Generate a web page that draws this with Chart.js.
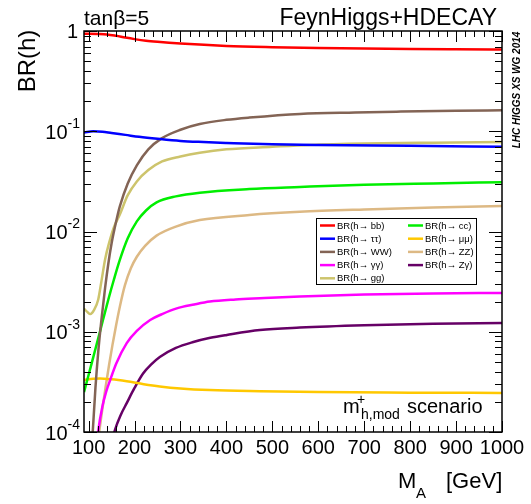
<!DOCTYPE html>
<html>
<head>
<meta charset="utf-8">
<script src="https://cdn.jsdelivr.net/npm/chart.js@4.4.1/dist/chart.umd.min.js"></script>
<style>
  html, body { margin: 0; padding: 0; background: #fff; }
  #wrap { width: 531px; height: 504px; }
</style>
</head>
<body>
<div id="wrap"><canvas id="brChart" width="531" height="504"></canvas></div>
<script>
// light Higgs branching ratios vs M_A (GeV), one mass/BR pair per channel
const mA_bb = [90, 120, 140, 160, 180, 200, 225, 250, 300, 400, 500, 600, 700, 800, 900, 1000];
const br_bb = [0.94, 0.935, 0.925, 0.895, 0.86, 0.83, 0.8, 0.78, 0.75, 0.71, 0.69, 0.677, 0.668, 0.662, 0.658, 0.655];

const mA_tautau = [90, 110, 130, 150, 180, 210, 250, 300, 350, 400, 500, 600, 800, 1000];
const br_tautau = [0.097, 0.1, 0.099, 0.096, 0.092, 0.088, 0.084, 0.08, 0.078, 0.0765, 0.074, 0.0728, 0.0715, 0.07];

const mA_WW = [106, 109, 115, 121, 128, 136, 143, 150, 160, 168, 185, 205, 230, 259, 300, 342, 400, 450, 560, 680, 780, 900, 1000];
const br_WW = [5.4e-5, 1e-4, 2.8e-4, 6.3e-4, 1.32e-3, 2.75e-3, 4.8e-3, 7.6e-3, 0.0126, 0.0178, 0.03, 0.0457, 0.066, 0.085, 0.1035, 0.118, 0.13, 0.137, 0.149, 0.154, 0.157, 0.16, 0.162];

const mA_gamgam = [119, 121, 130, 138, 147, 160, 183, 205, 234, 260, 292, 330, 364, 420, 473, 560, 700, 850, 1000];
const br_gamgam = [8.5e-5, 1.03e-4, 1.8e-4, 2.5e-4, 3.3e-4, 4.8e-4, 7.7e-4, 1.02e-3, 1.31e-3, 1.5e-3, 1.71e-3, 1.87e-3, 2.0e-3, 2.1e-3, 2.16e-3, 2.25e-3, 2.35e-3, 2.41e-3, 2.44e-3];

const mA_gg = [90, 97, 104, 112, 121, 128, 136, 145, 155, 168, 185, 205, 230, 260, 300, 342, 400, 500, 580, 700, 850, 1000];
const br_gg = [1.7e-3, 1.58e-3, 1.5e-3, 1.65e-3, 2.1e-3, 3.2e-3, 5.3e-3, 7.8e-3, 0.011, 0.0148, 0.0229, 0.0316, 0.041, 0.05, 0.056, 0.061, 0.066, 0.07, 0.073, 0.0755, 0.077, 0.078];

const mA_cc = [90, 100, 114, 123, 132, 143, 155, 168, 185, 205, 225, 248, 290, 342, 450, 560, 700, 850, 1000];
const br_cc = [2.5e-4, 3.7e-4, 6.5e-4, 9.3e-4, 1.35e-3, 2.1e-3, 3.3e-3, 5.2e-3, 8.5e-3, 0.0126, 0.0162, 0.0195, 0.0224, 0.0244, 0.0265, 0.0278, 0.0293, 0.0302, 0.031];

const mA_mumu = [90, 110, 125, 150, 183, 220, 255, 300, 364, 473, 600, 800, 1000];
const br_mumu = [3.3e-4, 3.4e-4, 3.42e-4, 3.35e-4, 3.2e-4, 3.0e-4, 2.85e-4, 2.72e-4, 2.62e-4, 2.55e-4, 2.5e-4, 2.47e-4, 2.45e-4];

const mA_ZZ = [120, 123, 129, 137, 145, 152, 160, 168, 179, 192, 205, 223, 248, 290, 342, 450, 560, 700, 850, 1000];
const br_ZZ = [7.9e-5, 1e-4, 1.58e-4, 2.8e-4, 4.8e-4, 7.4e-4, 1.17e-3, 1.78e-3, 2.9e-3, 4.3e-3, 5.6e-3, 7.2e-3, 9.1e-3, 0.0112, 0.013, 0.0146, 0.0157, 0.0166, 0.0174, 0.018];

const mA_Zgam = [153, 157.5, 170, 183, 200, 219, 237, 255, 290, 328, 365, 401, 473, 560, 700, 850, 1000];
const br_Zgam = [8.7e-5, 1.05e-4, 1.48e-4, 1.94e-4, 2.75e-4, 3.85e-4, 4.75e-4, 5.6e-4, 6.9e-4, 7.9e-4, 8.7e-4, 9.3e-4, 1.04e-3, 1.1e-3, 1.16e-3, 1.2e-3, 1.22e-3];

const xTickLabels = ['100', '200', '300', '400', '500', '600', '700', '800', '900', '1000'];
const yTickExponents = [-4, -3, -2, -1, 0];

const FONT = '"Liberation Sans", Arial, Helvetica, sans-serif';

function toPoints(xs, ys) {
  return xs.map((x, i) => ({ x: x, y: ys[i] }));
}

function curve(label, xs, ys, color) {
  return {
    label: label,
    data: toPoints(xs, ys),
    borderColor: color,
    backgroundColor: color,
    borderWidth: 2.5,
    pointRadius: 0,
    fill: false,
    cubicInterpolationMode: 'monotone'
  };
}

const datasets = [
  curve('BR(h\u2192 bb)', mA_bb, br_bb, '#ff0000'),
  curve('BR(h\u2192 \u03c4\u03c4)', mA_tautau, br_tautau, '#0000ff'),
  curve('BR(h\u2192 WW)', mA_WW, br_WW, '#836455'),
  curve('BR(h\u2192 \u03b3\u03b3)', mA_gamgam, br_gamgam, '#ff00ff'),
  curve('BR(h\u2192 gg)', mA_gg, br_gg, '#cdc46c'),
  curve('BR(h\u2192 cc)', mA_cc, br_cc, '#00ee00'),
  curve('BR(h\u2192 \u03bc\u03bc)', mA_mumu, br_mumu, '#ffc800'),
  curve('BR(h\u2192 ZZ)', mA_ZZ, br_ZZ, '#ddb984'),
  curve('BR(h\u2192 Z\u03b3)', mA_Zgam, br_Zgam, '#660066')
];

// two legend columns, listed top to bottom
const legendColumns = [[0, 1, 2, 3, 4], [5, 6, 7, 8]];

function hline(ctx, x1, y1, x2, y2) {
  ctx.beginPath();
  ctx.moveTo(x1, y1);
  ctx.lineTo(x2, y2);
  ctx.stroke();
}

const decorations = {
  id: 'decorations',
  afterDatasetsDraw(chart) {
    const { ctx, chartArea: a, scales: { x, y } } = chart;
    ctx.save();
    ctx.strokeStyle = '#000';
    ctx.fillStyle = '#000';
    ctx.lineWidth = 1;

    // x ticks on bottom and top edges, pointing inward
    for (let v = 100; v <= 1000; v += 20) {
      const px = Math.round(x.getPixelForValue(v)) + 0.5;
      const len = v % 100 === 0 ? 11 : 6;
      hline(ctx, px, a.bottom, px, a.bottom - len);
      hline(ctx, px, a.top, px, a.top + len);
    }
    // y ticks on left and right edges
    for (let e = -4; e <= 0; e++) {
      for (let m = 1; m <= 9; m++) {
        if (e === 0 && m > 1) break;
        const py = Math.round(y.getPixelForValue(m * Math.pow(10, e))) + 0.5;
        const len = m === 1 ? 13 : 7;
        hline(ctx, a.left, py, a.left + len, py);
        hline(ctx, a.right, py, a.right - len, py);
      }
    }

    // legend box
    const lx = 316, ly = 218, lw = 160, lh = 66;
    ctx.fillStyle = '#fff';
    ctx.fillRect(lx, ly, lw, lh);
    ctx.strokeRect(lx + 0.5, ly + 0.5, lw, lh);
    ctx.font = '9.5px ' + FONT;
    ctx.textBaseline = 'middle';
    ctx.textAlign = 'left';
    const colX = [lx + 4, lx + 92];
    legendColumns.forEach((col, c) => {
      col.forEach((di, r) => {
        const ds = datasets[di];
        const ry = ly + 7.5 + r * 13.2;
        ctx.strokeStyle = ds.borderColor;
        ctx.lineWidth = 2.5;
        hline(ctx, colX[c], ry, colX[c] + 15, ry);
        ctx.fillStyle = '#000';
        ctx.fillText(ds.label, colX[c] + 17, ry + 0.5);
      });
    });

    // frame
    ctx.strokeStyle = '#000';
    ctx.lineWidth = 1.5;
    ctx.strokeRect(a.left, a.top, a.right - a.left, a.bottom - a.top);

    // x tick labels
    ctx.fillStyle = '#000';
    ctx.font = '20px ' + FONT;
    ctx.textAlign = 'center';
    ctx.textBaseline = 'alphabetic';
    xTickLabels.forEach(t => {
      ctx.fillText(t, x.getPixelForValue(Number(t)), a.bottom + 22);
    });

    // y tick labels, powers of ten
    yTickExponents.forEach(e => {
      const py = y.getPixelForValue(Math.pow(10, e));
      ctx.textBaseline = 'middle';
      ctx.textAlign = 'right';
      if (e === 0) {
        ctx.font = '20px ' + FONT;
        ctx.fillText('1', 78, py + 1);
      } else {
        ctx.font = '14px ' + FONT;
        ctx.fillText(String(e), 80, py - 7);
        const sw = ctx.measureText(String(e)).width;
        ctx.font = '20px ' + FONT;
        ctx.fillText('10', 80 - sw, py + 2);
      }
    });

    // header texts
    ctx.textBaseline = 'alphabetic';
    ctx.font = '21px ' + FONT;
    ctx.textAlign = 'left';
    ctx.fillText('tan\u03b2=5', 84, 25);
    ctx.textAlign = 'right';
    ctx.font = '23px ' + FONT;
    ctx.fillText('FeynHiggs+HDECAY', 497, 25);

    // y axis title
    ctx.save();
    ctx.translate(35, 61);
    ctx.rotate(-Math.PI / 2);
    ctx.textAlign = 'center';
    ctx.font = '24px ' + FONT;
    ctx.fillText('BR(h)', 0, 0);
    ctx.restore();

    // x axis title
    ctx.textAlign = 'left';
    ctx.font = '22px ' + FONT;
    ctx.fillText('M', 398, 488);
    ctx.font = '15px ' + FONT;
    ctx.fillText('A', 416, 498);
    ctx.font = '22px ' + FONT;
    ctx.fillText('[GeV]', 446, 488);

    // scenario label
    ctx.font = '20px ' + FONT;
    ctx.fillText('m', 343, 413);
    ctx.font = '14px ' + FONT;
    ctx.fillText('+', 357, 404);
    ctx.fillText('h,mod', 361, 419);
    ctx.font = '20px ' + FONT;
    ctx.fillText('scenario', 407, 413);

    // working group tag, vertical
    ctx.save();
    ctx.translate(520, 90);
    ctx.rotate(-Math.PI / 2);
    ctx.textAlign = 'center';
    ctx.font = 'italic bold 10px ' + FONT;
    ctx.fillText('LHC HIGGS XS WG 2014', 0, 0);
    ctx.restore();

    ctx.restore();
  }
};

new Chart(document.getElementById('brChart').getContext('2d'), {
  type: 'line',
  data: { datasets: datasets },
  options: {
    responsive: false,
    animation: false,
    layout: { padding: { left: 84, right: 29, top: 31, bottom: 72 } },
    scales: {
      x: { type: 'linear', min: 90, max: 1000, display: false },
      y: { type: 'logarithmic', min: 1e-4, max: 1, display: false }
    },
    plugins: {
      legend: { display: false },
      tooltip: { enabled: false }
    }
  },
  plugins: [decorations]
});
</script>
</body>
</html>
